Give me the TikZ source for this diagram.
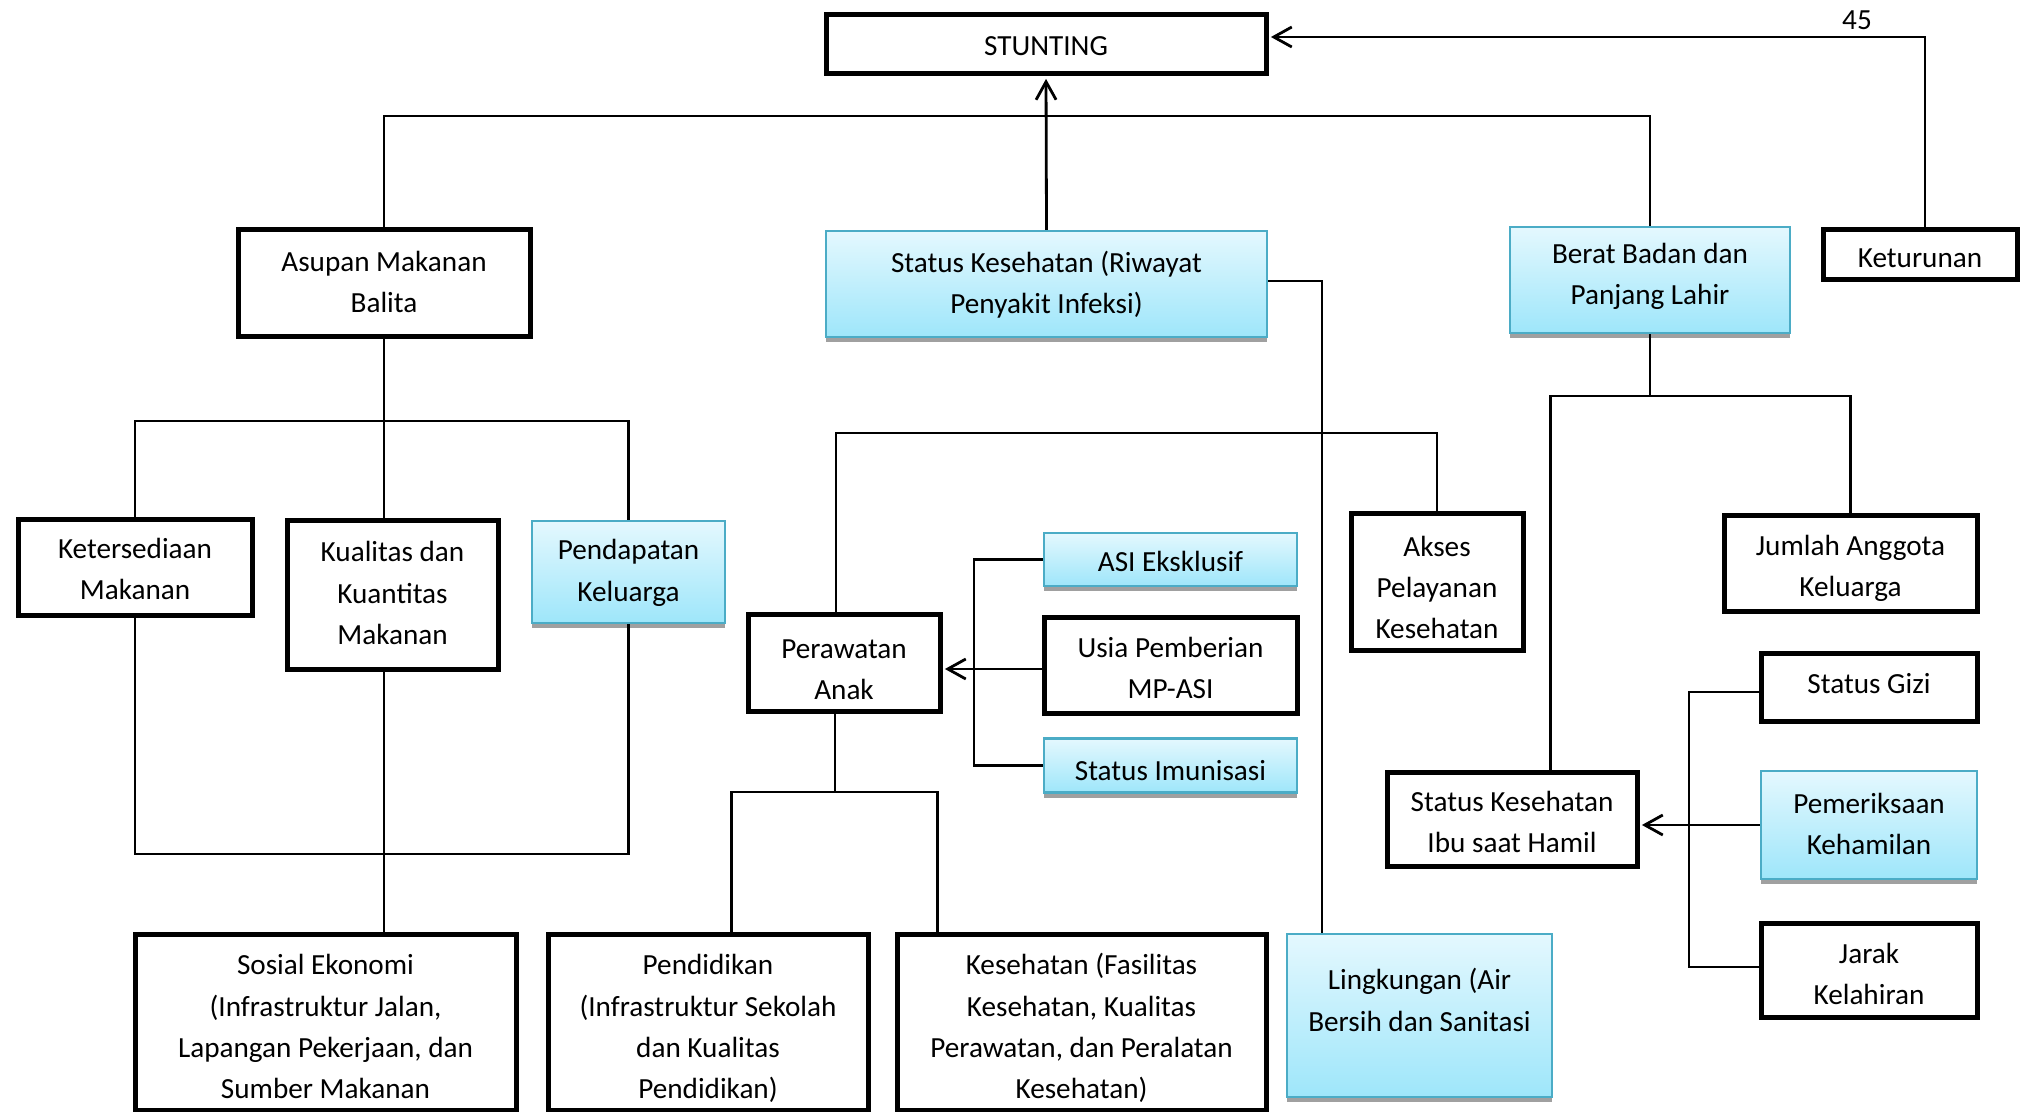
\documentclass[tikz,border=0pt]{standalone}
\usepackage{fontspec}
\setmainfont{Carlito}
\usetikzlibrary{arrows.meta,calc,shadows}
\definecolor{bborder}{RGB}{75,172,198}
\definecolor{btop}{RGB}{228,248,254}
\definecolor{bbot}{RGB}{158,230,250}
\definecolor{shad}{RGB}{160,160,160}
\newcommand\boxfont{\fontsize{14.6pt}{20.6pt}\selectfont}
\tikzset{
  bbox/.style={draw, line width=2.5pt, fill=white, inner sep=0pt, align=center, font=\boxfont,
    execute at begin node=\strut, execute at end node=\strut},
  bshadow/.style={general shadow={shadow xshift=0pt, shadow yshift=-2.5pt, fill=shad}},
  blbox/.style={draw=bborder, line width=1.2pt, top color=btop, bottom color=bbot, inner sep=0pt, align=center, font=\boxfont, bshadow,
    execute at begin node=\strut, execute at end node=\strut},
  conn/.style={line width=1.1pt},
  arr/.style={line width=1.4pt, -{Straight Barb[length=9pt,width=10pt]}, shorten >=1.2pt}
}
\begin{document}
\begin{tikzpicture}[x=0.5pt,y=-0.5pt]
\useasboundingbox (0,0) rectangle (2022,1112);
% nodes
\node[bbox, minimum width=220pt, minimum height=29.5pt] (stunting) at (1046,44.5) {\rule{0pt}{17pt}STUNTING};
\node[bbox, minimum width=146pt, minimum height=53.5pt] (asupan) at (384,283.5) {\rule{0pt}{14.7pt}Asupan Makanan\\Balita};
\node[blbox, minimum width=220.5pt, minimum height=53pt] (statkes) at (1046.5,284) {\rule{0pt}{15.3pt}Status Kesehatan (Riwayat\\Penyakit Infeksi)};
\node[blbox, minimum width=140pt, minimum height=53pt] (berat) at (1650,280) {Berat Badan dan\\Panjang Lahir};
\node[bbox, minimum width=97pt, minimum height=25pt] (ketur) at (1920,255) {\rule{0pt}{18.8pt}Keturunan};
\node[bbox, minimum width=117pt, minimum height=48pt] (keters) at (135,567) {\rule{0pt}{18.3pt}Ketersediaan\\Makanan};
\node[bbox, minimum width=105.5pt, minimum height=74.5pt] (kualitas) at (392.5,594.5) {\rule{0pt}{14.7pt}Kualitas dan\\Kuantitas\\Makanan};
\node[blbox, minimum width=96.5pt, minimum height=51pt] (pendapatan) at (628.5,572) {\rule{0pt}{14.7pt}Pendapatan\\Keluarga};
\node[bbox, minimum width=96pt, minimum height=46pt] (perawatan) at (844,663) {\rule{0pt}{22.1pt}Perawatan\\Anak};
\node[blbox, minimum width=126.5pt, minimum height=26.5pt] (asi) at (1170.5,559.5) {\rule{0pt}{18.3pt}ASI Eksklusif};
\node[bbox, minimum width=126.5pt, minimum height=48pt] (usia) at (1170.5,665) {\rule{0pt}{19.5pt}Usia Pemberian\\MP-ASI};
\node[blbox, minimum width=126.5pt, minimum height=26.5pt] (imunisasi) at (1170.5,765.5) {\rule{0pt}{20.9pt}Status Imunisasi};
\node[bbox, minimum width=86pt, minimum height=67pt] (akses) at (1437,582) {\rule{0pt}{21.4pt}Akses\\Pelayanan\\Kesehatan};
\node[bbox, minimum width=126.5pt, minimum height=48pt] (jumlah) at (1850.5,563) {\rule{0pt}{19.5pt}Jumlah Anggota\\Keluarga};
\node[bbox, minimum width=108pt, minimum height=34pt] (gizi) at (1869,687) {Status Gizi\rule[-7.5pt]{0pt}{0pt}};
\node[blbox, minimum width=108pt, minimum height=54pt] (periksa) at (1869,825) {\rule{0pt}{15.4pt}Pemeriksaan\\Kehamilan};
\node[bbox, minimum width=108pt, minimum height=47pt] (jarak) at (1869,970) {\rule{0pt}{20.1pt}Jarak\\Kelahiran};
\node[bbox, minimum width=125pt, minimum height=47pt] (ibu) at (1512,819) {\rule{0pt}{19.5pt}Status Kesehatan\\Ibu saat Hamil};
\node[bbox, minimum width=190.5pt, minimum height=87pt] (sosial) at (325.5,1022.5) {\rule{0pt}{20.3pt}Sosial Ekonomi\\(Infrastruktur Jalan,\\Lapangan Pekerjaan, dan\\Sumber Makanan};
\node[bbox, minimum width=160pt, minimum height=87pt] (pendidikan) at (708,1022.5) {\rule{0pt}{20.3pt}Pendidikan\\(Infrastruktur Sekolah\\dan Kualitas\\Pendidikan)};
\node[bbox, minimum width=184.5pt, minimum height=87pt] (kesehatan) at (1081.5,1022.5) {\rule{0pt}{20.3pt}Kesehatan (Fasilitas\\Kesehatan, Kualitas\\Perawatan, dan Peralatan\\Kesehatan)};
\node[blbox, minimum width=132.5pt, minimum height=81.5pt] (lingkungan) at (1419.5,1015.5) {};
\node[font=\boxfont, align=center] (lingtext) at (1419.5,1000) {Lingkungan (Air\\Bersih dan Sanitasi};
\node[font=\boxfont] (num) at (1857,20) {45};
% helper coordinates
\coordinate (h1) at (0,116);
\coordinate (h2) at (0,421);
\coordinate (h3) at (0,854);
\coordinate (h4) at (0,433);
\coordinate (h5) at (0,792);
\coordinate (h6) at (0,396);
\coordinate (v1) at (974,0);
\coordinate (v2) at (1689,0);
% connectors
\draw[conn] (asupan.north) -- (asupan.north |- h1) -- (berat.north |- h1) -- (berat.north);
\draw[arr] (statkes.north) -- (stunting.south);
\draw[arr] ($(ketur.north)+(5,0)$) |- ([yshift=3.75pt]stunting.east);
\draw[conn] ([yshift=1.5pt]statkes.east) -| ($(lingkungan.north west)+(36,0)$);
\draw[conn] (asupan.south) -- (asupan.south |- kualitas.north);
\draw[conn] (keters.north) -- (keters.north |- h2) -- (pendapatan.north |- h2) -- (pendapatan.north);
\draw[conn] (asupan.south |- kualitas.south) -- (asupan.south |- sosial.north);
\draw[conn] (keters.south) -- (keters.south |- h3) -- (pendapatan.south |- h3) -- (pendapatan.south);
\coordinate (pn) at ($(perawatan.north)+(-8,0)$);
\draw[conn] (pn) -- (pn |- h4) -- (akses.north |- h4) -- (akses.north);
\coordinate (ps) at ($(perawatan.south)+(-9,0)$);
\draw[conn] (ps) -- (ps |- h5);
\coordinate (pa) at ($(pendidikan.north west)+(186,0)$);
\coordinate (pb) at ($(kesehatan.north west)+(43,0)$);
\draw[conn] (pa) -- (pa |- h5) -- (pb |- h5) -- (pb);
\draw[conn] (asi.west) -- (asi.west -| v1) -- (imunisasi.west -| v1) -- (imunisasi.west);
\draw[arr] ([yshift=-2pt]usia.west) -- ([yshift=-2pt]perawatan.east |- usia.west);
\draw[conn] (berat.south) -- (berat.south |- h6);
\coordinate (pi) at ($(ibu.north west)+(166,0)$);
\draw[conn] (pi) -- (pi |- h6) -- (jumlah.north |- h6) -- (jumlah.north);
\draw[conn] ([yshift=-2.5pt]gizi.west) -- ([yshift=-2.5pt]gizi.west -| v2) -- ([yshift=1.5pt]jarak.west -| v2) -- ([yshift=1.5pt]jarak.west);
\draw[arr] (periksa.west) -- (ibu.east |- periksa.west);
\end{tikzpicture}
\end{document}
